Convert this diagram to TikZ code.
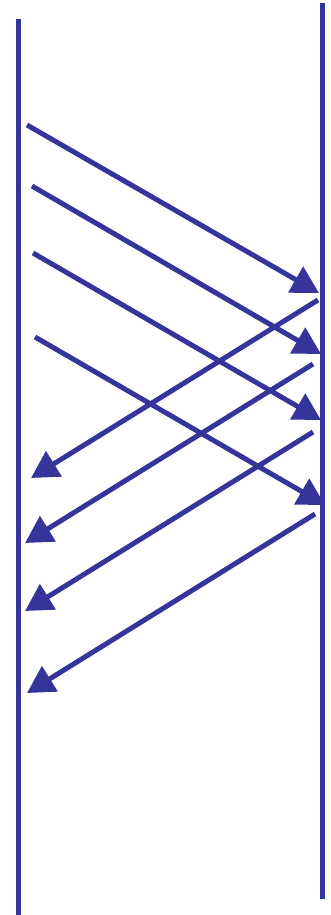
\documentclass[tikz,border=0pt]{standalone}
\usetikzlibrary{arrows.meta}
\definecolor{seq}{RGB}{52,52,154}
\begin{document}
\begin{tikzpicture}[x=1pt,y=-1pt,
  lifeline/.style={draw=seq,line width=5pt},
  msg/.style={draw=seq,line width=5pt,-{Triangle[length=27pt,width=29pt]},fill=seq}]
\useasboundingbox (0,0) rectangle (330,915);
% lifelines
\coordinate (Ltop) at (18,19);
\coordinate (Lbot) at (18,915);
\coordinate (Rtop) at (322,3);
\coordinate (Rbot) at (322,899);
\draw[lifeline] (Ltop) -- (Lbot);
\draw[lifeline] (Rtop) -- (Rbot);
% rightward messages
\coordinate (a1) at (27,125);  \coordinate (b1) at (319,293);
\coordinate (a2) at (32,186);  \coordinate (b2) at (321,354);
\coordinate (a3) at (33,253);  \coordinate (b3) at (321,420);
\coordinate (a4) at (35,337);  \coordinate (b4) at (325,505);
\draw[msg] (a1) -- (b1);
\draw[msg] (a2) -- (b2);
\draw[msg] (a3) -- (b3);
\draw[msg] (a4) -- (b4);
% leftward messages
\coordinate (c1) at (318,300); \coordinate (d1) at (31,478);
\coordinate (c2) at (313,364); \coordinate (d2) at (25,543);
\coordinate (c3) at (313,432); \coordinate (d3) at (25,611);
\coordinate (c4) at (315,514); \coordinate (d4) at (27,693);
\draw[msg] (c1) -- (d1);
\draw[msg] (c2) -- (d2);
\draw[msg] (c3) -- (d3);
\draw[msg] (c4) -- (d4);
\end{tikzpicture}
\end{document}
